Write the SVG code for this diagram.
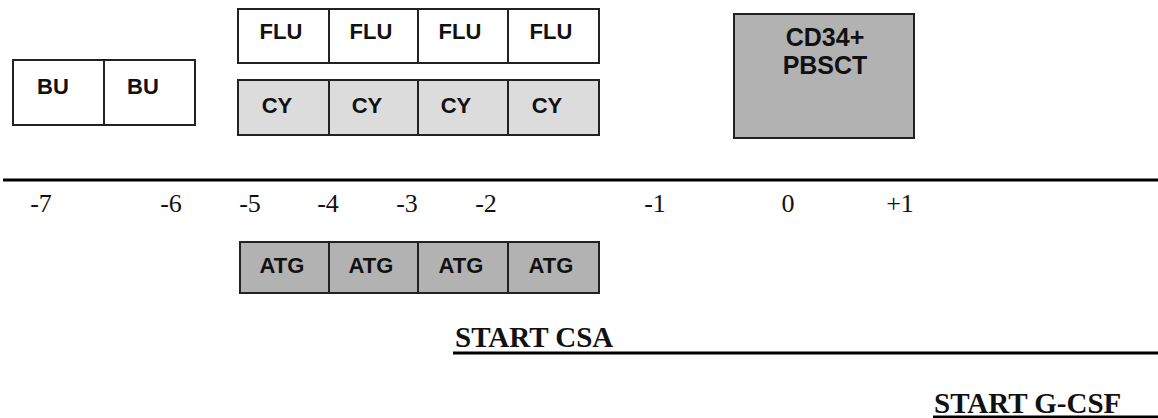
<svg xmlns="http://www.w3.org/2000/svg" width="1158" height="418" viewBox="0 0 1158 418">
  <style>
    .cell { stroke: #222; stroke-width: 2; }
    .white { fill: #ffffff; }
    .light { fill: #dcdcdc; }
    .dark { fill: #b2b2b2; }
    .lbl { font-family: "Liberation Sans", Arial, sans-serif; font-weight: bold; font-size: 22px; fill: #111; text-anchor: middle; }
    .big { font-family: "Liberation Sans", Arial, sans-serif; font-weight: bold; font-size: 25px; fill: #111; text-anchor: middle; }
    .tick { font-family: "Liberation Serif", "Times New Roman", serif; font-size: 26px; fill: #111; text-anchor: middle; }
    .start { font-family: "Liberation Serif", "Times New Roman", serif; font-weight: bold; font-size: 29px; fill: #111; }
    .rule { stroke: #000; stroke-width: 3; }
  </style>
  <rect width="1158" height="418" fill="#ffffff"/>

  <!-- Busulfan, days -7 and -6 -->
  <g id="bu">
    <rect class="cell white" x="13" y="60" width="91" height="65"/>
    <rect class="cell white" x="104" y="60" width="91" height="65"/>
    <text class="lbl" x="53" y="94">BU</text>
    <text class="lbl" x="143" y="94">BU</text>
  </g>

  <!-- Fludarabine, days -5 to -2 -->
  <g id="flu">
    <rect class="cell white" x="238" y="9" width="91" height="54"/>
    <rect class="cell white" x="329" y="9" width="89" height="54"/>
    <rect class="cell white" x="418" y="9" width="90" height="54"/>
    <rect class="cell white" x="508" y="9" width="91" height="54"/>
    <text class="lbl" x="281" y="39">FLU</text>
    <text class="lbl" x="371" y="39">FLU</text>
    <text class="lbl" x="460" y="39">FLU</text>
    <text class="lbl" x="551" y="39">FLU</text>
  </g>

  <!-- Cyclophosphamide, days -5 to -2 -->
  <g id="cy">
    <rect class="cell light" x="238" y="80" width="91" height="55"/>
    <rect class="cell light" x="329" y="80" width="89" height="55"/>
    <rect class="cell light" x="418" y="80" width="90" height="55"/>
    <rect class="cell light" x="508" y="80" width="91" height="55"/>
    <text class="lbl" x="277" y="113">CY</text>
    <text class="lbl" x="367" y="113">CY</text>
    <text class="lbl" x="456" y="113">CY</text>
    <text class="lbl" x="547" y="113">CY</text>
  </g>

  <!-- Stem cell infusion, day 0 -->
  <g id="pbsct">
    <rect class="cell dark" x="734" y="14" width="180" height="124"/>
    <text class="big" x="825" y="46">CD34+<tspan x="825" dy="28">PBSCT</tspan></text>
  </g>

  <!-- Anti-thymocyte globulin, days -5 to -2 -->
  <g id="atg">
    <rect class="cell dark" x="240" y="242" width="89" height="51"/>
    <rect class="cell dark" x="329" y="242" width="89" height="51"/>
    <rect class="cell dark" x="418" y="242" width="90" height="51"/>
    <rect class="cell dark" x="508" y="242" width="91" height="51"/>
    <text class="lbl" x="282" y="273">ATG</text>
    <text class="lbl" x="371" y="273">ATG</text>
    <text class="lbl" x="461" y="273">ATG</text>
    <text class="lbl" x="551" y="273">ATG</text>
  </g>

  <!-- Day axis -->
  <g id="axis">
    <text class="tick" x="41" y="212">-7</text>
    <text class="tick" x="171" y="212">-6</text>
    <text class="tick" x="250" y="212">-5</text>
    <text class="tick" x="328" y="212">-4</text>
    <text class="tick" x="407" y="212">-3</text>
    <text class="tick" x="486" y="212">-2</text>
    <text class="tick" x="655" y="212">-1</text>
    <text class="tick" x="788" y="212">0</text>
    <text class="tick" x="900" y="212">+1</text>
  </g>

  <g id="csa">
    <text class="start" x="455" y="347">START CSA</text>
  </g>

  <g id="gcsf">
    <text class="start" x="934" y="413" font-size="27">START G-CSF</text>
  </g>

  <!-- Horizontal rules: timeline and drug-start bars -->
  <g id="connectors">
    <line class="rule" x1="3" y1="180" x2="1158" y2="180"/>
    <line class="rule" x1="453" y1="353" x2="1158" y2="353"/>
    <line class="rule" x1="933" y1="417" x2="1158" y2="417"/>
  </g>
</svg>
